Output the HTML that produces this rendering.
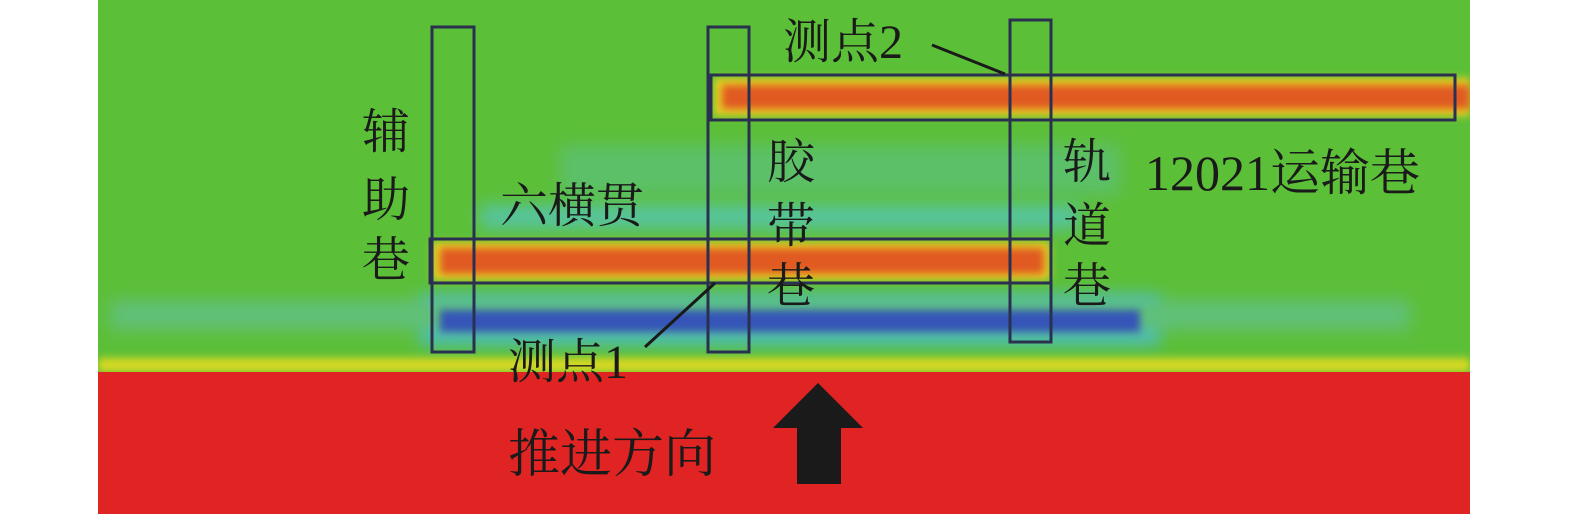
<!DOCTYPE html>
<html><head><meta charset="utf-8"><style>
html,body{margin:0;padding:0;background:#fff;}
svg{display:block}
text{font-family:"Liberation Serif","Noto Serif CJK SC",serif;fill:#1a1a1a;}
</style></head><body>
<svg width="1575" height="514" viewBox="0 0 1575 514" xmlns="http://www.w3.org/2000/svg">
<defs>
<filter id="b8" x="-20%" y="-100%" width="140%" height="300%"><feGaussianBlur stdDeviation="8"/></filter>
<filter id="b4" x="-20%" y="-100%" width="140%" height="300%"><feGaussianBlur stdDeviation="4"/></filter>
<clipPath id="c"><rect x="98" y="0" width="1372" height="514"/></clipPath>
</defs>
<g clip-path="url(#c)">
<rect x="98" y="0" width="1372" height="514" fill="#5cbf38"/>
<rect x="560" y="145" width="560" height="50" fill="#5cc068" filter="url(#b8)"/>
<rect x="480" y="205" width="600" height="24" fill="#56c4a0" filter="url(#b8)"/>
<rect x="420" y="295" width="740" height="50" fill="#4cbcc0" filter="url(#b8)"/>
<rect x="110" y="300" width="1300" height="30" fill="#60c078" filter="url(#b8)"/>
<rect x="440" y="310" width="700" height="22" fill="#3654b8" filter="url(#b4)"/>
<rect x="98" y="358" width="1372" height="14" fill="#d8d820" filter="url(#b4)"/>
<rect x="98" y="372" width="1372" height="142" fill="#e02424"/>
<rect x="432" y="242" width="618" height="38" fill="#e8d020" filter="url(#b4)"/>
<rect x="440" y="248" width="604" height="26" fill="#e05a22" filter="url(#b4)"/>
<rect x="714" y="78" width="756" height="38" fill="#e8d020" filter="url(#b4)"/>
<rect x="722" y="85" width="748" height="24" fill="#e05a22" filter="url(#b4)"/>
</g>
<g fill="none" stroke="#2a3050" stroke-width="3">
<rect x="432" y="27" width="42" height="325"/>
<rect x="708" y="27" width="41" height="325"/>
<rect x="1010" y="20" width="41" height="322"/>
<rect x="430" y="239" width="621" height="44"/>
<rect x="711" y="75" width="744" height="45"/>
</g>
<g stroke="#1a1a1a" stroke-width="3">
<line x1="715" y1="283" x2="645" y2="347"/>
<line x1="932" y1="45" x2="1005" y2="74"/>
</g>
<g font-size="48">
<text x="362" y="148">辅</text>
<text x="362" y="216">助</text>
<text x="362" y="276">巷</text>
<text x="500" y="222">六横贯</text>
<text x="767" y="178">胶</text>
<text x="767" y="242">带</text>
<text x="767" y="302">巷</text>
<text x="1063" y="178">轨</text>
<text x="1063" y="242">道</text>
<text x="1063" y="302">巷</text>
<text x="1145" y="190" font-size="50">12021运输巷</text>
<text x="508" y="378">测点1</text>
<text x="783" y="58">测点2</text>
</g>
<text x="508" y="472" font-size="52">推进方向</text>
<polygon points="818,383 863,428 841,428 841,484 797,484 797,428 773,428" fill="#1a1a1a"/>
</svg>
</body></html>
